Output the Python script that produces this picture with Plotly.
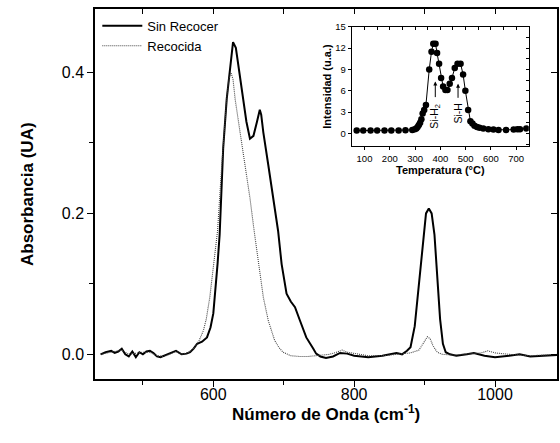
import plotly.graph_objects as go

# ---------------- data ----------------
wn_sin = [440, 447, 455, 460, 465, 470, 475, 480, 485, 490, 495, 500, 505, 510, 515, 520, 525, 530, 540, 547, 555,
          562, 567, 572, 577, 584, 591, 596, 600, 603, 606, 609, 614, 619, 624, 628, 632, 637, 642, 647, 652, 657,
          662, 666, 668, 671, 678, 685, 692, 697, 704, 710, 716, 723, 732, 742, 746, 752, 760, 770, 780, 790, 800,
          820, 840, 860, 868, 875, 880, 886, 892, 897, 902, 906, 910, 914, 918, 922, 926, 930, 936, 945, 960, 970,
          985, 1000, 1020, 1035, 1050, 1070, 1090]
abs_sin = [0.000, 0.003, 0.005, 0.002, 0.004, 0.008, 0.000, -0.003, 0.004, -0.004, 0.003, 0.000, 0.004, 0.005,
           0.002, -0.003, -0.004, -0.002, 0.002, 0.005, 0.000, 0.001, 0.003, 0.008, 0.015, 0.018, 0.024, 0.038,
           0.058, 0.09, 0.128, 0.17, 0.292, 0.362, 0.41, 0.443, 0.435, 0.40, 0.36, 0.33, 0.306, 0.31, 0.33, 0.347,
           0.34, 0.315, 0.269, 0.222, 0.175, 0.128, 0.086, 0.075, 0.067, 0.048, 0.024, 0.008, 0.001, -0.003,
           -0.005, -0.003, 0.002, 0.001, -0.002, -0.004, -0.002, 0.002, 0.0, 0.005, 0.01, 0.04, 0.10, 0.16, 0.20,
           0.207, 0.20, 0.17, 0.11, 0.05, 0.015, 0.003, 0.0, -0.002, 0.0, 0.002, -0.002, -0.004, -0.002, 0.0,
           -0.003, -0.002, -0.001]

wn_rec = [440, 450, 460, 470, 480, 490, 500, 510, 520, 530, 540, 547, 555, 565, 574, 580, 586, 590, 595, 600, 606,
          612, 616, 619, 622, 625, 628, 631, 638, 645, 652, 658, 664, 666, 668, 671, 678, 687, 693, 699, 710, 722,
          735, 750, 765, 775, 783, 790, 800, 820, 840, 860, 880, 892, 898, 904, 908, 912, 918, 925, 940, 960, 980,
          990, 1000, 1020, 1050, 1090]
abs_rec = [0.000, 0.002, 0.003, 0.006, 0.000, 0.002, 0.003, 0.003, -0.002, -0.003, 0.001, 0.004, 0.0, 0.003,
           0.01, 0.02, 0.034, 0.05, 0.081, 0.12, 0.175, 0.269, 0.33, 0.362, 0.39, 0.40, 0.39, 0.362, 0.315, 0.269,
           0.222, 0.175, 0.128, 0.118, 0.10, 0.081, 0.048, 0.02, 0.01, 0.003, -0.002, -0.003, -0.003, -0.002, 0.0,
           0.003, 0.006, 0.003, 0.001, -0.002, -0.002, 0.0, 0.002, 0.006, 0.015, 0.025, 0.022, 0.012, 0.003, 0.0,
           -0.001, 0.0, 0.002, 0.005, 0.002, 0.0, -0.002, 0.0]

temp = [69, 95, 124, 150, 179, 206, 235, 262, 289, 299, 305, 310, 315, 320, 325, 330, 336, 343, 356, 365, 372,
        381, 387, 395, 403, 411, 420, 428, 437, 446, 457, 468, 480, 490, 499, 510, 519, 527, 535, 545, 555, 570,
        590, 610, 630, 660, 690, 705, 715, 740]
inten = [0.4, 0.4, 0.4, 0.4, 0.4, 0.4, 0.4, 0.45, 0.5, 0.6, 0.7, 0.9, 1.2, 1.5, 2.0, 2.8, 3.3, 4.0, 9.0, 11.5,
         12.6, 12.6, 11.3, 9.8, 7.8, 6.6, 6.1, 6.1, 7.0, 7.8, 9.2, 9.8, 9.8, 8.3, 6.0, 3.3, 1.7, 1.4, 1.1, 0.9, 0.8,
         0.7, 0.6, 0.55, 0.5, 0.5, 0.55, 0.6, 0.6, 0.7]

x_ticks = [600, 800, 1000]
y_ticks = [0.0, 0.2, 0.4]
y_ticktext = ["0.0", "0.2", "0.4"]
inset_x_ticks = [100, 200, 300, 400, 500, 600, 700]
inset_y_ticks = [0, 3, 6, 9, 12, 15]

FONT = "Liberation Sans, Arial, sans-serif"
BLACK = "black"

fig = go.Figure()
fig.add_trace(go.Scatter(x=wn_sin, y=abs_sin, mode="lines", name="Sin Recocer",
                         line=dict(color=BLACK, width=2), xaxis="x", yaxis="y"))
fig.add_trace(go.Scatter(x=wn_rec, y=abs_rec, mode="lines", name="Recocida",
                         line=dict(color="#444444", width=1.1, dash="1px,1px"), xaxis="x", yaxis="y"))
fig.add_trace(go.Scatter(x=[None], y=[None], xaxis="x2", yaxis="y2", showlegend=False, hoverinfo="skip"))
fig.add_trace(go.Scatter(x=temp, y=inten, mode="lines+markers", showlegend=False,
                         line=dict(color=BLACK, width=1), marker=dict(color=BLACK, size=6.5),
                         xaxis="x3", yaxis="y3"))
fig.add_trace(go.Scatter(x=[None], y=[None], xaxis="x4", yaxis="y4", showlegend=False, hoverinfo="skip"))

XR = [432, 1088]
YR = [-0.035, 0.49]
IXR = [50, 750]
IYR = [-1.8, 15]
ID_X = [0.556, 0.939]
ID_Y = [0.629, 0.952]

common = dict(showgrid=False, zeroline=False, linecolor=BLACK, tickcolor=BLACK)
main_w = dict(linewidth=1.5, tickwidth=1.2)
ins_w = dict(linewidth=1.2, tickwidth=1)

fig.update_layout(
    width=560, height=443,
    margin=dict(l=95, r=3, t=7, b=64),
    paper_bgcolor="white", plot_bgcolor="white",
    font=dict(family=FONT, color=BLACK),
    showlegend=True,
    legend=dict(x=0.005, y=0.995, xanchor="left", yanchor="top", bgcolor="rgba(0,0,0,0)",
                font=dict(size=13, family=FONT), tracegroupgap=0, itemwidth=40),
    xaxis=dict(**common, **main_w, range=XR, tickvals=x_ticks, ticks="outside", ticklen=6, showline=True,
               tickfont=dict(size=16), ticklabelstandoff=-6,
               minor=dict(dtick=100, tick0=0, ticks="outside", ticklen=4, tickcolor=BLACK, tickwidth=1.2),
               anchor="y"),
    yaxis=dict(**common, **main_w, range=YR, tickvals=y_ticks, ticktext=y_ticktext, ticks="outside",
               ticklen=6, showline=True, tickfont=dict(size=16),
               minor=dict(dtick=0.1, tick0=0, ticks="outside", ticklen=4, tickcolor=BLACK, tickwidth=1.2),
               anchor="x"),
    xaxis2=dict(**common, **main_w, range=XR, overlaying="x", side="top", anchor="y", showline=True,
                dtick=100, tick0=0, ticks="inside", ticklen=5, showticklabels=False),
    yaxis2=dict(**common, **main_w, range=YR, overlaying="y", side="right", anchor="x", showline=True,
                tickvals=y_ticks, ticks="inside", ticklen=6, showticklabels=False,
                minor=dict(dtick=0.1, tick0=0, ticks="inside", ticklen=4, tickcolor=BLACK, tickwidth=1.2)),
    xaxis3=dict(**common, **ins_w, domain=ID_X, range=IXR, anchor="y3", tickvals=inset_x_ticks,
                ticks="outside", ticklen=3, showline=True, tickfont=dict(size=9.5),
                title=dict(text="<b>Temperatura (°C)</b>", font=dict(size=11), standoff=3)),
    yaxis3=dict(**common, **ins_w, domain=ID_Y, range=IYR, anchor="x3", tickvals=inset_y_ticks,
                ticks="outside", ticklen=3, showline=True, tickfont=dict(size=9.5),
                title=dict(text="<b>Intensidad (u.a.)</b>", font=dict(size=11), standoff=1)),
    xaxis4=dict(**common, **ins_w, domain=ID_X, range=IXR, overlaying="x3", side="top", anchor="y4",
                showline=True, dtick=50, tick0=0, ticks="inside", ticklen=3, showticklabels=False),
    yaxis4=dict(**common, **ins_w, domain=ID_Y, range=IYR, overlaying="y3", side="right", anchor="x4",
                showline=True, dtick=1.5, tick0=0, ticks="inside", ticklen=3, showticklabels=False),
)

fig.add_annotation(text="<b>Absorbancia (UA)</b>", xref="paper", yref="paper",
                   x=(27 - 95) / 462, y=0.5, textangle=-90, showarrow=False,
                   font=dict(size=17, family=FONT), xanchor="center", yanchor="middle")
fig.add_annotation(text="<b>Número de Onda (cm<sup>-1</sup>)</b>", xref="paper", yref="paper",
                   x=0.5, y=(379 - 413) / 372, showarrow=False,
                   font=dict(size=17, family=FONT), xanchor="center", yanchor="middle")

for xv, tip, tail, lab, ymid in [(380, 7.3, 4.9, "Si-H<sub>2</sub>", 2.4), (470, 7.0, 4.8, "Si-H", 2.8)]:
    fig.add_annotation(x=xv, y=tip, ax=xv, ay=tail, xref="x3", yref="y3", axref="x3", ayref="y3",
                       text="", showarrow=True, arrowhead=2, arrowsize=0.8, arrowwidth=1, arrowcolor=BLACK)
    fig.add_annotation(x=xv, y=ymid, xref="x3", yref="y3", text=lab, textangle=-90, showarrow=False,
                       font=dict(size=10.5, family=FONT), xanchor="center", yanchor="middle")

fig.write_html("out.html")
